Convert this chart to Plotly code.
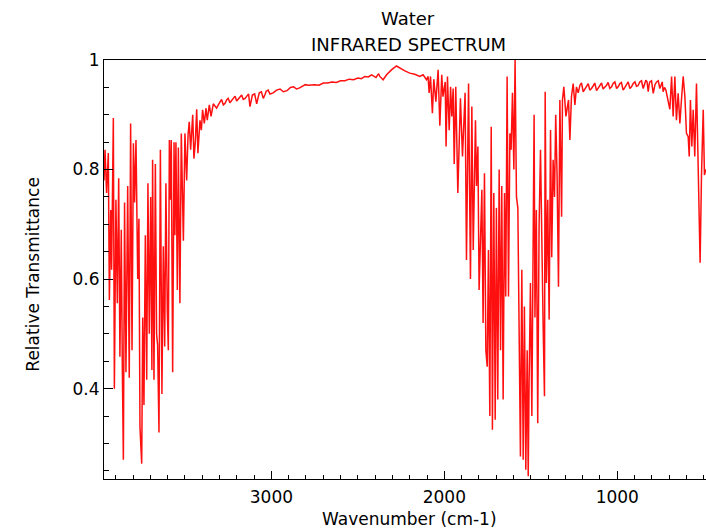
import plotly.graph_objects as go

# Wavenumber (cm-1) and relative transmittance
wavenumber = [
    3968, 3962, 3953, 3943, 3937, 3929, 3924, 3914, 3908, 3899, 3891, 3883, 3876, 3868, 3862, 3856,
    3849, 3841, 3831, 3822, 3814, 3806, 3798, 3791, 3783, 3773, 3766, 3760, 3750, 3744, 3737, 3729,
    3721, 3714, 3706, 3698, 3691, 3687, 3679, 3671, 3664, 3658, 3650, 3642, 3633, 3625, 3617, 3610,
    3602, 3596, 3590, 3583, 3579, 3571, 3563, 3558, 3552, 3544, 3538, 3529, 3521, 3509, 3500, 3490,
    3482, 3475, 3467, 3455, 3448, 3440, 3432, 3425, 3413, 3405, 3398, 3388, 3378, 3371, 3359, 3349,
    3336, 3317, 3307, 3297, 3288, 3278, 3268, 3259, 3250, 3240, 3230, 3220, 3210, 3201, 3190, 3180,
    3172, 3163, 3152, 3140, 3132, 3124, 3117, 3110, 3097, 3085, 3078, 3070, 3058, 3047, 3038, 3030,
    3019, 3008, 2990, 2970, 2950, 2931, 2910, 2890, 2872, 2854, 2837, 2820, 2804, 2787, 2750, 2725,
    2700, 2675, 2650, 2625, 2600, 2575, 2550, 2525, 2500, 2480, 2460, 2440, 2420,
    2395, 2380, 2373, 2354, 2334, 2306, 2277, 2257, 2228, 2200, 2171, 2142, 2123, 2103, 2094, 2088,
    2080, 2069, 2061, 2049, 2036, 2026, 2015, 2008, 1995, 1990, 1982, 1972, 1964, 1957, 1949, 1943,
    1934, 1922, 1907, 1895, 1880, 1872, 1860, 1849, 1841, 1833, 1820, 1814, 1806, 1799, 1791, 1783,
    1776, 1768, 1760, 1752, 1745, 1737, 1729, 1722, 1714, 1706, 1699, 1691, 1683, 1675, 1668, 1660,
    1652, 1645, 1637, 1629, 1621, 1614, 1606, 1598, 1591, 1583, 1575, 1568, 1560, 1552, 1544, 1537,
    1529, 1521, 1515, 1510, 1502, 1494, 1487, 1481, 1476, 1468, 1460, 1452, 1444, 1437, 1429, 1421,
    1417, 1410, 1402, 1394, 1386, 1379, 1371, 1363, 1356, 1348, 1340, 1332, 1322, 1317, 1309, 1297,
    1290, 1282, 1274, 1265, 1255, 1245, 1236, 1226, 1216, 1207, 1197, 1188, 1178, 1168, 1159, 1149,
    1139, 1130, 1120, 1110, 1101, 1091, 1082, 1072, 1062, 1053, 1043, 1033, 1024, 1014, 1004, 995,
    985, 976, 966, 956, 947, 937, 927, 918, 908, 898, 889, 880, 870, 860, 850, 843,
    835, 828, 821, 816, 812, 802, 792, 782, 773, 763, 754, 749, 744, 740, 735, 727,
    719, 706, 696, 686, 677, 667, 658, 648, 638, 629, 619, 609,
    600, 590, 584, 577, 569, 561, 552, 542, 534, 526, 521, 513, 503, 496, 488,
]
transmittance = [
    0.780, 0.836, 0.757, 0.830, 0.562, 0.726, 0.617, 0.894, 0.400, 0.745, 0.556, 0.784, 0.458, 0.690, 0.440, 0.270,
    0.740, 0.430, 0.770, 0.420, 0.884, 0.470, 0.848, 0.740, 0.854, 0.600, 0.710, 0.330, 0.263, 0.530, 0.370, 0.680,
    0.416, 0.775, 0.500, 0.750, 0.434, 0.818, 0.416, 0.810, 0.500, 0.480, 0.320, 0.836, 0.390, 0.660, 0.477, 0.775,
    0.540, 0.470, 0.854, 0.745, 0.854, 0.430, 0.850, 0.680, 0.850, 0.580, 0.840, 0.556, 0.866, 0.670, 0.866, 0.780,
    0.863, 0.887, 0.836, 0.900, 0.820, 0.850, 0.910, 0.830, 0.890, 0.872, 0.909, 0.884, 0.912, 0.890, 0.918, 0.897,
    0.920, 0.912, 0.918, 0.924, 0.928, 0.918, 0.921, 0.927, 0.930, 0.922, 0.926, 0.930, 0.934, 0.925, 0.929, 0.932,
    0.936, 0.928, 0.930, 0.935, 0.938, 0.915, 0.930, 0.936, 0.938, 0.920, 0.930, 0.940, 0.942, 0.930, 0.936, 0.943,
    0.945, 0.938, 0.940, 0.945, 0.947, 0.942, 0.944, 0.950, 0.951, 0.947, 0.949, 0.952, 0.955, 0.954, 0.955, 0.954,
    0.958, 0.958, 0.960, 0.959, 0.962, 0.962, 0.965, 0.964, 0.967, 0.966, 0.970, 0.969, 0.973,
    0.968, 0.975, 0.970, 0.964, 0.973, 0.982, 0.989, 0.985, 0.980, 0.976, 0.974, 0.970, 0.973, 0.964, 0.970, 0.940,
    0.970, 0.903, 0.965, 0.924, 0.982, 0.880, 0.973, 0.933, 0.960, 0.842, 0.970, 0.872, 0.951, 0.897, 0.948, 0.810,
    0.951, 0.757, 0.930, 0.824, 0.940, 0.635, 0.957, 0.600, 0.915, 0.653, 0.890, 0.770, 0.842, 0.580, 0.684, 0.763,
    0.520, 0.793, 0.470, 0.440, 0.653, 0.350, 0.878, 0.325, 0.757, 0.343, 0.730, 0.380, 0.800, 0.470, 0.770, 0.380,
    0.757, 0.568, 0.970, 0.568, 0.866, 0.836, 0.940, 0.800, 1.000, 0.750, 0.730, 0.530, 0.276, 0.617, 0.270, 0.550,
    0.252, 0.470, 0.240, 0.410, 0.593, 0.350, 0.678, 0.900, 0.530, 0.726, 0.337, 0.700, 0.836, 0.630, 0.520, 0.386,
    0.942, 0.593, 0.745, 0.526, 0.872, 0.640, 0.818, 0.750, 0.900, 0.787, 0.586, 0.927, 0.714, 0.927, 0.951, 0.897,
    0.910, 0.927, 0.854, 0.933, 0.957, 0.918, 0.951, 0.940, 0.954, 0.958, 0.942, 0.947, 0.951, 0.957, 0.945, 0.948,
    0.953, 0.958, 0.944, 0.949, 0.953, 0.958, 0.947, 0.950, 0.954, 0.959, 0.948, 0.951, 0.957, 0.960, 0.948, 0.951,
    0.957, 0.959, 0.945, 0.950, 0.954, 0.960, 0.948, 0.951, 0.957, 0.960, 0.952, 0.953, 0.960, 0.962, 0.948, 0.955,
    0.963, 0.960, 0.942, 0.955, 0.960, 0.962, 0.939, 0.955, 0.960, 0.962, 0.948, 0.952, 0.957, 0.960, 0.942, 0.950,
    0.945, 0.927, 0.910, 0.970, 0.897, 0.970, 0.890, 0.939, 0.884, 0.927, 0.970, 0.933,
    0.866, 0.860, 0.824, 0.927, 0.842, 0.909, 0.824, 0.957, 0.824, 0.730, 0.630, 0.790, 0.909, 0.790, 0.800,
]

title_lines = ["Water", "INFRARED SPECTRUM"]
x_title = "Wavenumber (cm-1)"
y_title = "Relative Transmittance"

FONT = "DejaVu Sans"

fig = go.Figure()
fig.add_trace(go.Scatter(
    x=wavenumber, y=transmittance, mode="lines",
    line=dict(color="#ff1010", width=1.5), showlegend=False, hoverinfo="skip",
))

fig.update_layout(
    width=706, height=530,
    margin=dict(l=104, r=0, t=60, b=51, pad=0),
    paper_bgcolor="white", plot_bgcolor="white",
    font=dict(family=FONT, size=17, color="black"),
    xaxis=dict(
        range=[3968, 487], showgrid=False, zeroline=False,
        showline=True, linecolor="black", linewidth=1, mirror=True,
        ticks="inside", ticklen=8, tickcolor="black", tickwidth=1,
        dtick=1000, tick0=0, ticklabelstandoff=3,
        minor=dict(ticks="inside", ticklen=4, dtick=100, tick0=0, tickcolor="black", showgrid=False),
        tickfont=dict(family=FONT, size=17),
    ),
    yaxis=dict(
        range=[0.235, 1.0], showgrid=False, zeroline=False,
        showline=True, linecolor="black", linewidth=1,
        ticks="inside", ticklen=9, tickcolor="black", tickwidth=1,
        dtick=0.2, tick0=0,
        minor=dict(ticks="inside", ticklen=5, dtick=0.05, tick0=0, tickcolor="black", showgrid=False),
        tickfont=dict(family=FONT, size=17),
    ),
    annotations=[
        dict(text=title_lines[0], xref="paper", yref="paper", x=0.505, y=1.100,
             xanchor="center", yanchor="middle", showarrow=False, font=dict(size=18)),
        dict(text=title_lines[1], xref="paper", yref="paper", x=0.505, y=1.038,
             xanchor="center", yanchor="middle", showarrow=False, font=dict(size=18)),
        dict(text=x_title, xref="paper", yref="paper", x=0.508, y=-0.095,
             xanchor="center", yanchor="middle", showarrow=False, font=dict(size=17)),
        dict(text=y_title, xref="paper", yref="paper", x=-0.118, y=0.49,
             xanchor="center", yanchor="middle", showarrow=False, textangle=-90, font=dict(size=17)),
    ],
)

fig.write_html("out.html")
